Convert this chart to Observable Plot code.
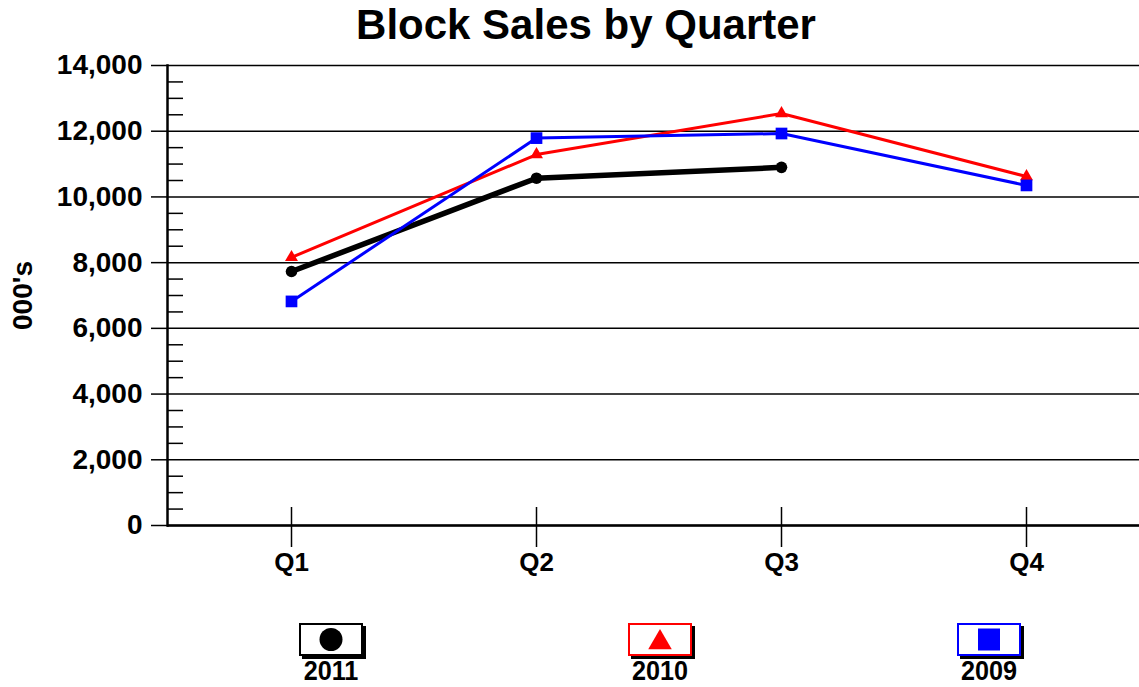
<!DOCTYPE html>
<html>
<head>
<meta charset="utf-8">
<script src="https://cdn.jsdelivr.net/npm/d3@7"></script>
<script src="https://cdn.jsdelivr.net/npm/@observablehq/plot@0.6"></script>
<style>
  html, body { margin: 0; padding: 0; background: white; overflow: hidden; }
  #wrap { position: relative; width: 1139px; height: 687px; font-family: "Liberation Sans", Arial, sans-serif; }
  #title { position: absolute; left: 0; top: 0; width: 1172px; height: 50px; line-height: 50px; text-align: center; font-size: 42px; font-weight: bold; color: black; }
  #chart { position: absolute; left: 0; top: 50px; }
  #chart svg text { font-family: "Liberation Sans", Arial, sans-serif; }
  #legend { position: absolute; left: 0; top: 600px; width: 1139px; height: 87px; }
  .item { position: absolute; top: 0; width: 64px; height: 87px; }
  .box { position: absolute; left: 0; top: 23px; width: 60px; height: 29px; background: white; border: 2px solid black; box-shadow: 3px 3px 0 black; }
  .box svg { position: absolute; left: 0; top: 0; }
  .lab { position: absolute; left: -20px; width: 104px; top: 59px; height: 24px; line-height: 24px; text-align: center; font-family: "Liberation Sans", Arial, sans-serif; font-weight: bold; font-size: 28px; color: black; transform: scaleX(0.9); }
</style>
</head>
<body>
<div id="wrap">
  <div id="title">Block Sales by Quarter</div>
  <div id="chart"></div>
  <div id="legend"></div>
</div>
<script>
// ---- data ----
const quarters = ["Q1", "Q2", "Q3", "Q4"];
const sales2011 = [7730, 10570, 10900];
const sales2010 = [8160, 11290, 12540, 10620];
const sales2009 = [6820, 11790, 11930, 10350];
const seriesNames = ["2011", "2010", "2009"];
const seriesColors = ["black", "red", "blue"];
const seriesSymbols = ["circle", "triangle", "square"];
const yMajorTicks = [0, 2000, 4000, 6000, 8000, 10000, 12000, 14000];
const yMinorTicks = [500, 1000, 1500, 2500, 3000, 3500, 4500, 5000, 5500, 6500, 7000, 7500,
                     8500, 9000, 9500, 10500, 11000, 11500, 12500, 13000, 13500];
const yLabel = "000's";

const toRows = (vals, series) => vals.map((v, i) => ({quarter: quarters[i], value: v, series}));
const rows2011 = toRows(sales2011, "2011");
const rows2010 = toRows(sales2010, "2010");
const rows2009 = toRows(sales2009, "2009");

const FONT = "Liberation Sans";
const fmt = d3.format(",d");

const chart = Plot.plot({
  width: 1139,
  height: 550,
  marginTop: 15,
  marginBottom: 75,
  marginLeft: 167,
  marginRight: 0,
  x: {type: "point", domain: quarters, range: [167, 1150], padding: 0.5},
  y: {domain: [0, 14000]},
  style: {fontFamily: FONT, fontWeight: "bold", fontSize: "28px", color: "black", background: "white", overflow: "visible"},
  marks: [
    Plot.gridY(yMajorTicks, {stroke: "black", strokeOpacity: 1, strokeWidth: 1.5}),
    Plot.axisY(yMajorTicks, {tickSize: 16, tickPadding: 9, tickFormat: fmt, label: yLabel, labelAnchor: "center", labelOffset: 155, labelArrow: "none", fontSize: 28, fontFamily: FONT, fontWeight: "bold", strokeWidth: 1.5}),
    Plot.axisY(yMinorTicks, {tickSize: -16, text: null, label: null, strokeWidth: 1.5}),
    Plot.axisX(quarters, {tickSize: 22, tickPadding: 5, label: null, fontSize: 26, fontFamily: FONT, fontWeight: "bold", strokeWidth: 1.5}),
    Plot.axisX(quarters, {tickSize: -18, text: null, label: null, strokeWidth: 1.5}),
    Plot.frame({anchor: "left", strokeWidth: 2.5}),
    Plot.ruleY([0], {strokeWidth: 2.5}),
    Plot.line(rows2011, {x: "quarter", y: "value", stroke: seriesColors[0], strokeWidth: 5.5}),
    Plot.dot(rows2011, {x: "quarter", y: "value", symbol: seriesSymbols[0], fill: seriesColors[0], r: 5.8}),
    Plot.line(rows2010, {x: "quarter", y: "value", stroke: seriesColors[1], strokeWidth: 3}),
    Plot.dot(rows2010, {x: "quarter", y: "value", symbol: seriesSymbols[1], fill: seriesColors[1], r: 4.8}),
    Plot.line(rows2009, {x: "quarter", y: "value", stroke: seriesColors[2], strokeWidth: 3}),
    Plot.dot(rows2009, {x: "quarter", y: "value", symbol: seriesSymbols[2], fill: seriesColors[2], r: 6.6})
  ]
});
document.getElementById("chart").appendChild(chart);

// ---- legend ----
const legendCenters = [331, 660, 989];
const symbolTypes = {circle: d3.symbolCircle, triangle: d3.symbolTriangle, square: d3.symbolSquare};
const symbolAreas = {circle: 415, triangle: 240, square: 484};
const legend = document.getElementById("legend");
seriesNames.forEach((name, i) => {
  const item = document.createElement("div");
  item.className = "item";
  item.style.left = (legendCenters[i] - 32) + "px";
  const box = document.createElement("div");
  box.className = "box";
  box.style.borderColor = seriesColors[i];
  const sym = seriesSymbols[i];
  const path = d3.symbol(symbolTypes[sym], symbolAreas[sym])();
  const dy = sym === "triangle" ? 3 : 0;
  box.innerHTML = `<svg width="60" height="29"><path transform="translate(30,${14.5 + dy})" d="${path}" fill="${seriesColors[i]}"></path></svg>`;
  const lab = document.createElement("div");
  lab.className = "lab";
  lab.textContent = name;
  item.appendChild(box);
  item.appendChild(lab);
  legend.appendChild(item);
});
</script>
</body>
</html>
